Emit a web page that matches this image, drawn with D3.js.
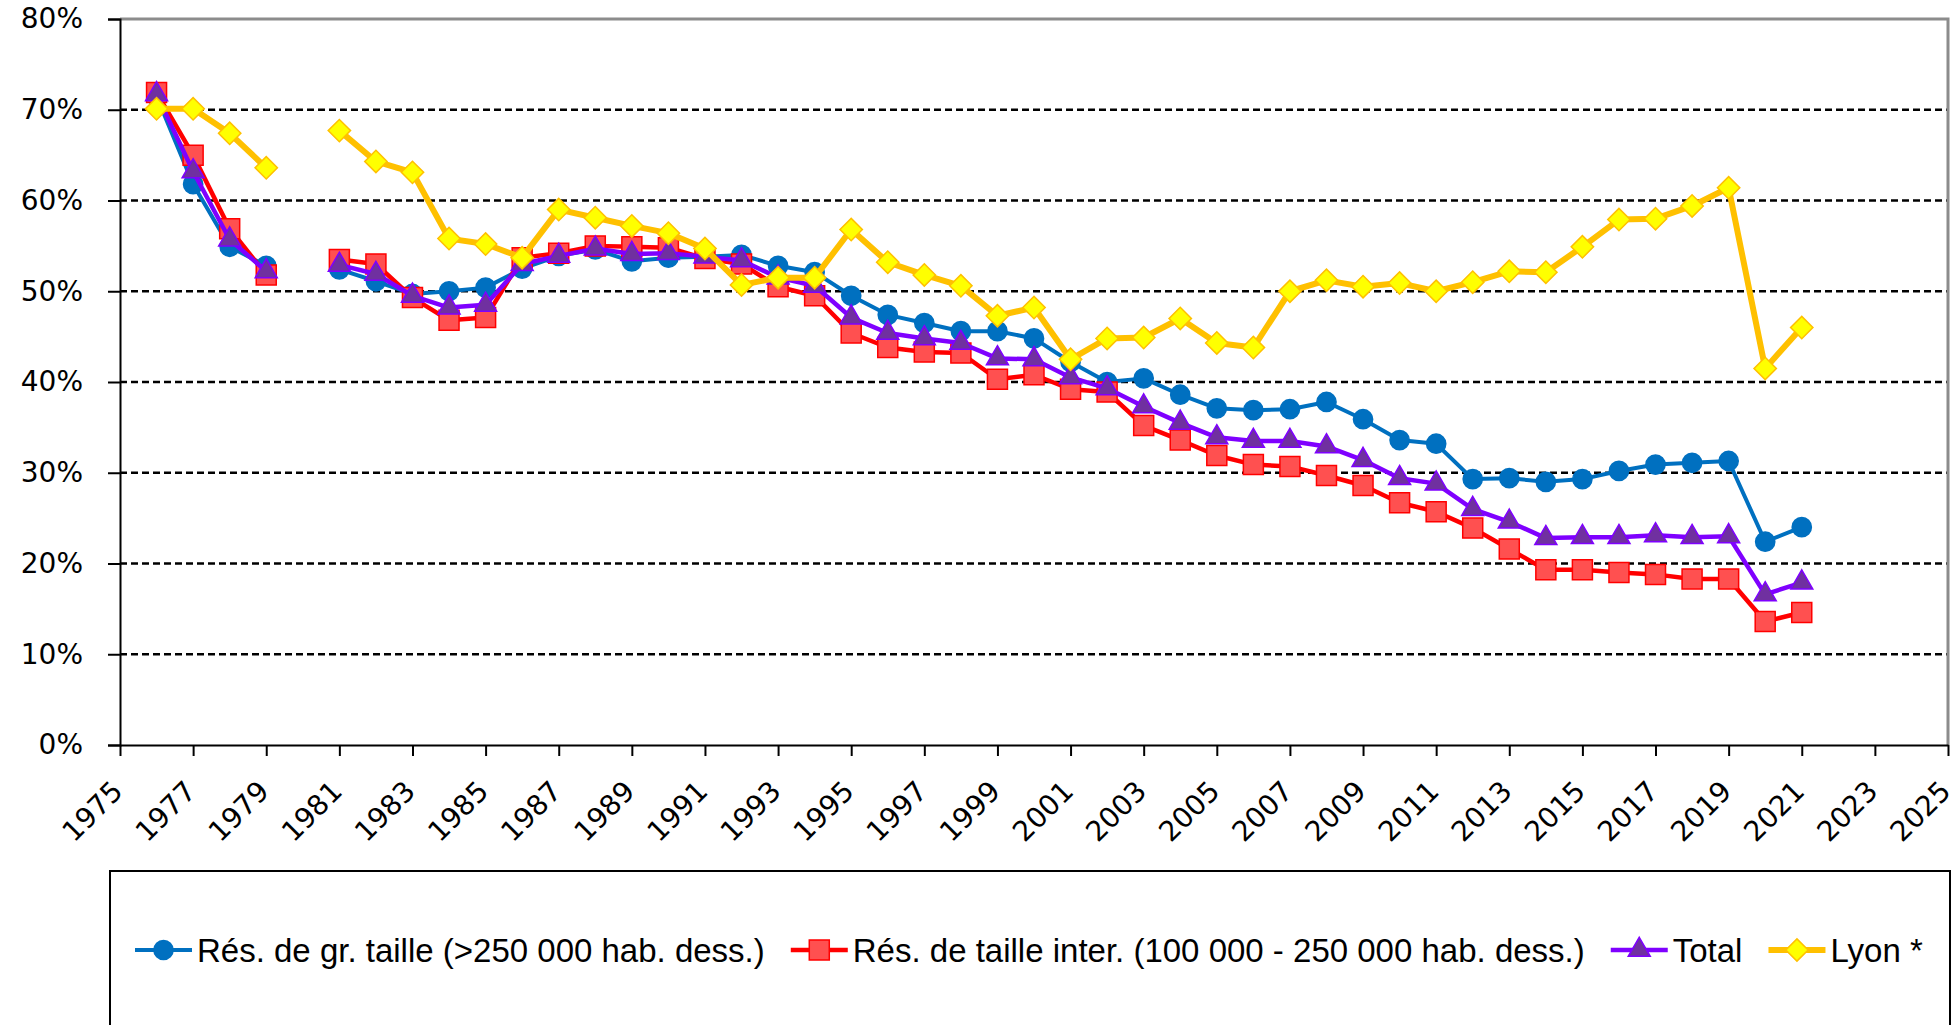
<!DOCTYPE html>
<html>
<head>
<meta charset="utf-8">
<script src="https://cdnjs.cloudflare.com/ajax/libs/d3/7.8.5/d3.min.js"></script>
<style>
  body { margin: 0; background: #fff; }
  .axis text { font-family: "DejaVu Sans", Verdana, sans-serif; font-size: 28px; fill: #000; }
  .axis path, .axis line { stroke: #000; stroke-width: 2px; }
  .legend text { font-family: "Liberation Sans", Arial, sans-serif; font-size: 33px; fill: #000; }
</style>
</head>
<body>
<svg id="chart" width="1960" height="1025"></svg>
<script>
// years 1976..2021, 1980 has no value
var years = d3.range(1976, 2022);

var grandes = [71.5, 61.8, 54.9, 52.8, null, 52.4, 51.1, 49.7, 50.0, 50.4, 52.5, 53.9, 54.6, 53.3, 53.7,
  53.8, 54.0, 52.8, 52.1, 49.5, 47.4, 46.5, 45.6, 45.6, 44.8,
  42.2, 40.0, 40.4, 38.6, 37.1, 36.9, 37.0, 37.8, 35.9, 33.6,
  33.2, 29.3, 29.4, 29.0, 29.3, 30.2, 30.9, 31.1, 31.3, 22.4, 24.0];

var inter = [71.9, 65.0, 56.9, 51.8, null, 53.5, 53.0, 49.3, 46.8, 47.1, 53.7, 54.2, 55.0, 54.9, 54.8,
  53.6, 53.0, 50.5, 49.5, 45.4, 43.8, 43.3, 43.2, 40.3, 40.8,
  39.2, 38.9, 35.2, 33.6, 31.9, 30.9, 30.7, 29.7, 28.6, 26.7,
  25.7, 23.9, 21.6, 19.3, 19.3, 19.0, 18.8, 18.3, 18.3, 13.6, 14.6];

var total = [71.7, 63.2, 55.7, 52.2, null, 52.9, 51.9, 49.5, 48.2, 48.5, 53.0, 53.9, 54.7, 54.1, 54.2,
  53.8, 53.4, 51.5, 50.6, 47.1, 45.4, 44.8, 44.3, 42.6, 42.5,
  40.5, 39.3, 37.3, 35.5, 33.9, 33.5, 33.5, 32.9, 31.4, 29.4,
  28.8, 26.0, 24.6, 22.8, 22.9, 22.9, 23.1, 22.9, 23.0, 16.6, 17.9];

var lyon = [70.1, 70.1, 67.4, 63.6, null, 67.7, 64.3, 63.1, 55.8, 55.2, 53.7, 59.0, 58.1, 57.2, 56.4,
  54.7, 50.7, 51.5, 51.5, 56.8, 53.2, 51.8, 50.6, 47.3, 48.2,
  42.5, 44.8, 44.9, 47.0, 44.3, 43.8, 50.0, 51.2, 50.5, 50.9,
  50.0, 51.0, 52.2, 52.1, 54.9, 57.9, 58.0, 59.4, 61.4, 41.5, 46.0];

var seriesNames = [
  "Rés. de gr. taille (>250 000 hab. dess.)",
  "Rés. de taille inter. (100 000 - 250 000 hab. dess.)",
  "Total",
  "Lyon *"
];

var xTicks = d3.range(1975, 2026, 2);
var yTicks = [0, 0.1, 0.2, 0.3, 0.4, 0.5, 0.6, 0.7, 0.8];

var styles = [
  {line: "#0070C0", fill: "#0070C0", stroke: "#0070C0", width: 4, shape: "circle"},
  {line: "#FF0000", fill: "#FF5050", stroke: "#FF0000", width: 4.5, shape: "square"},
  {line: "#7F00FF", fill: "#7030A0", stroke: "#7F00FF", width: 4.5, shape: "triangle"},
  {line: "#FFC000", fill: "#FFFF00", stroke: "#FFC000", width: 6, shape: "diamond"}
];

var series = [grandes, inter, total, lyon].map(function(vals, i) {
  return {
    name: seriesNames[i],
    style: styles[i],
    values: years.map(function(yr, j) { return {year: yr, value: vals[j] == null ? null : vals[j] / 100}; })
  };
});

var svg = d3.select("#chart"),
    margin = {top: 19, right: 12, bottom: 280, left: 120},
    width = +svg.attr("width") - margin.left - margin.right,
    height = +svg.attr("height") - margin.top - margin.bottom;

var x = d3.scaleLinear().domain([1975, 2025]).range([0, width]),
    y = d3.scaleLinear().domain([0, 0.8]).range([height, 0]);

var g = svg.append("g")
    .attr("transform", "translate(" + margin.left + "," + margin.top + ")");

// dashed gridlines
g.append("g")
    .selectAll("line")
    .data(yTicks.filter(function(t) { return t > 0 && t < 0.8; }))
    .enter().append("line")
      .attr("x1", 0).attr("x2", width)
      .attr("y1", function(d) { return y(d); })
      .attr("y2", function(d) { return y(d); })
      .attr("stroke", "#000")
      .attr("stroke-width", 2.5)
      .attr("stroke-dasharray", "7,4");

// top and right frame
g.append("path")
    .attr("d", "M0," + y(0.8) + "H" + width + "V" + height)
    .attr("fill", "none")
    .attr("stroke", "#8c8c8c")
    .attr("stroke-width", 3);

g.append("g")
    .attr("class", "axis axis--y")
    .call(d3.axisLeft(y).tickValues(yTicks).tickFormat(d3.format(".0%")).tickSize(12).tickPadding(25));

g.append("g")
    .attr("class", "axis axis--x")
    .attr("transform", "translate(0," + height + ")")
    .call(d3.axisBottom(x).tickValues(xTicks).tickFormat(d3.format("d")).tickSize(11).tickSizeOuter(0))
    .selectAll("text")
      .style("text-anchor", "end")
      .attr("x", 0)
      .attr("y", 0)
      .attr("dy", "0.35em")
      .attr("transform", "translate(-3,41) rotate(-45)");

function symbolFor(shape) {
  if (shape === "circle") return d3.symbol().type(d3.symbolCircle).size(290);
  if (shape === "square") return d3.symbol().type(d3.symbolSquare).size(400);
  if (shape === "triangle") return d3.symbol().type(d3.symbolTriangle).size(210);
  return d3.symbol().type(d3.symbolSquare).size(250);
}

var line = d3.line()
    .defined(function(d) { return d.value != null; })
    .x(function(d) { return x(d.year); })
    .y(function(d) { return y(d.value); });

series.forEach(function(s) {
  var sg = g.append("g").attr("class", "series");
  sg.append("path")
      .datum(s.values)
      .attr("fill", "none")
      .attr("stroke", s.style.line)
      .attr("stroke-width", s.style.width)
      .attr("stroke-linejoin", "round")
      .attr("d", line);
  sg.selectAll(".mark")
    .data(s.values.filter(function(d) { return d.value != null; }))
    .enter().append("path")
      .attr("class", "mark")
      .attr("d", symbolFor(s.style.shape))
      .attr("transform", function(d) {
        return "translate(" + x(d.year) + "," + y(d.value) + ")" + (s.style.shape === "diamond" ? " rotate(45)" : "");
      })
      .attr("fill", s.style.fill)
      .attr("stroke", s.style.stroke)
      .attr("stroke-width", 1.5);
});

// legend
var legendBox = {x: 110, y: 871, w: 1840, h: 200};
var legend = svg.append("g").attr("class", "legend");
legend.append("rect")
    .attr("x", legendBox.x).attr("y", legendBox.y)
    .attr("width", legendBox.w).attr("height", legendBox.h)
    .attr("fill", "none").attr("stroke", "#000").attr("stroke-width", 2);

var rowY = 950, sampleW = 57, textGap = 5, itemGap = 26;
var items = legend.selectAll(".item").data(series).enter().append("g").attr("class", "item");
items.append("line")
    .attr("x1", 0).attr("x2", sampleW).attr("y1", 0).attr("y2", 0)
    .attr("stroke", function(d) { return d.style.line; })
    .attr("stroke-width", function(d) { return d.style.width; });
items.append("path")
    .attr("d", function(d) { return symbolFor(d.style.shape)(); })
    .attr("transform", function(d) { return "translate(" + sampleW / 2 + ",0)" + (d.style.shape === "diamond" ? " rotate(45)" : ""); })
    .attr("fill", function(d) { return d.style.fill; })
    .attr("stroke", function(d) { return d.style.stroke; })
    .attr("stroke-width", 1.5);
items.append("text")
    .attr("x", sampleW + textGap)
    .attr("dy", "0.35em")
    .text(function(d) { return d.name; });

var widths = [];
items.each(function() { widths.push(sampleW + textGap + d3.select(this).select("text").node().getComputedTextLength()); });
var cx = legendBox.x + 25;
items.attr("transform", function(d, i) {
  var tx = cx;
  cx += widths[i] + itemGap;
  return "translate(" + tx + "," + rowY + ")";
});
</script>
</body>
</html>
